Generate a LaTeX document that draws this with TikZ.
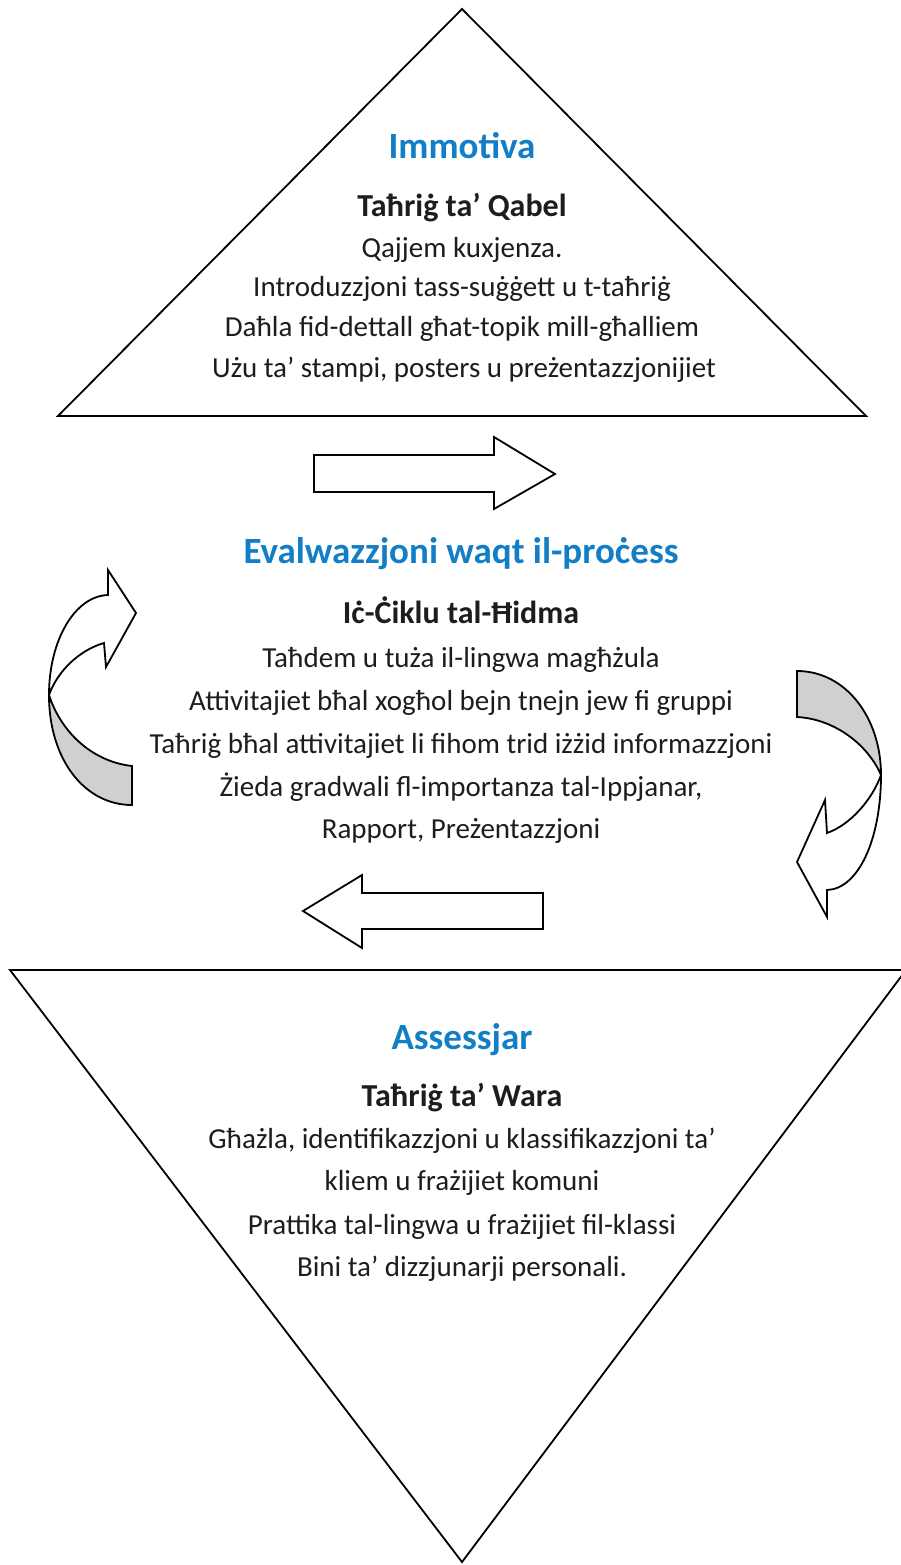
\documentclass[tikz,border=0pt]{standalone}
\usepackage{fontspec}
\setmainfont{Carlito}
\definecolor{headblue}{RGB}{18,126,198}
\definecolor{txt}{RGB}{30,28,28}
\definecolor{bandgray}{RGB}{208,208,208}
\begin{document}
\begin{tikzpicture}[x=1pt,y=-1pt,
  shapeline/.style={draw=black,line width=1.8pt,line join=miter},
  headtxt/.style={anchor=base,text=headblue,inner sep=0pt,font=\fontsize{37}{44}\selectfont\bfseries},
  subtxt/.style={anchor=base,text=txt,inner sep=0pt,font=\fontsize{32}{38}\selectfont\bfseries},
  bodytxt/.style={anchor=base,text=txt,inner sep=0pt,font=\fontsize{29}{35}\selectfont}]
\useasboundingbox (0,0) rectangle (901,1565);
\clip (0,0) rectangle (901,1565);

% top triangle
\draw[shapeline,fill=white] (462,9) -- (866,416) -- (58,416) -- cycle;
\node[headtxt] (h1) at (462,159) {Immotiva};
\node[subtxt] (s1) at (462,216) {Taħriġ ta’ Qabel};
\node[bodytxt] (t11) at (462,257) {Qajjem kuxjenza.};
\node[bodytxt] (t12) at (462,296) {Introduzzjoni tass-suġġett u t-taħriġ};
\node[bodytxt] (t13) at (462,336) {Daħla fid-dettall għat-topik mill-għalliem};
\node[bodytxt] (t14) at (464,377) {Użu ta’ stampi, posters u preżentazzjonijiet};

% right block arrow
\draw[shapeline,fill=white] (314,455) -- (494,455) -- (494,437) -- (555,474) -- (494,509) -- (494,492) -- (314,492) -- cycle;

% middle text
\node[headtxt] (h2) at (461,563) {Evalwazzjoni waqt il-proċess};
\node[subtxt] (s2) at (461,623) {Iċ-Ċiklu tal-Ħidma};
\node[bodytxt] (t21) at (461,667) {Taħdem u tuża il-lingwa magħżula};
\node[bodytxt] (t22) at (461,710) {Attivitajiet bħal xogħol bejn tnejn jew fi gruppi};
\node[bodytxt] (t23) at (461,753) {Taħriġ bħal attivitajiet li fihom trid iżżid informazzjoni};
\node[bodytxt] (t24) at (461,796) {Żieda gradwali fl-importanza tal-Ippjanar,};
\node[bodytxt] (t25) at (461,838) {Rapport, Preżentazzjoni};

% left curved arrow (up-right)
\draw[shapeline,fill=bandgray] (49,695) .. controls (49,760) and (85,805) .. (132,805) -- (132,766) .. controls (95,762) and (62,735) .. (49,695) -- cycle;
\draw[shapeline,fill=white] (49,695) .. controls (49,640) and (75,596) .. (108,595) -- (108,570) -- (136,613) -- (106,667) -- (104,643) .. controls (80,650) and (58,670) .. (49,695) -- cycle;

% right curved arrow (down-left)
\draw[shapeline,fill=bandgray] (797,671) .. controls (846,671) and (881,718) .. (881,775) .. controls (868,745) and (835,719) .. (797,717) -- cycle;
\draw[shapeline,fill=white] (881,775) .. controls (881,840) and (858,889) .. (827,890) -- (827,917) -- (797,862) -- (825,800) -- (827,833) .. controls (850,825) and (872,800) .. (881,775) -- cycle;

% left block arrow
\draw[shapeline,fill=white] (303,911) -- (362,875) -- (362,893) -- (543,893) -- (543,929) -- (362,929) -- (362,948) -- cycle;

% bottom triangle
\draw[shapeline,fill=white] (10,970) -- (906,970) -- (462,1562) -- cycle;
\node[headtxt] (h3) at (462,1049) {Assessjar};
\node[subtxt] (s3) at (462,1106) {Taħriġ ta’ Wara};
\node[bodytxt] (t31) at (462,1148) {Għażla, identifikazzjoni u klassifikazzjoni ta’};
\node[bodytxt] (t32) at (462,1190) {kliem u frażijiet komuni};
\node[bodytxt] (t33) at (462,1234) {Prattika tal-lingwa u frażijiet fil-klassi};
\node[bodytxt] (t34) at (462,1276) {Bini ta’ dizzjunarji personali.};
\end{tikzpicture}
\end{document}
